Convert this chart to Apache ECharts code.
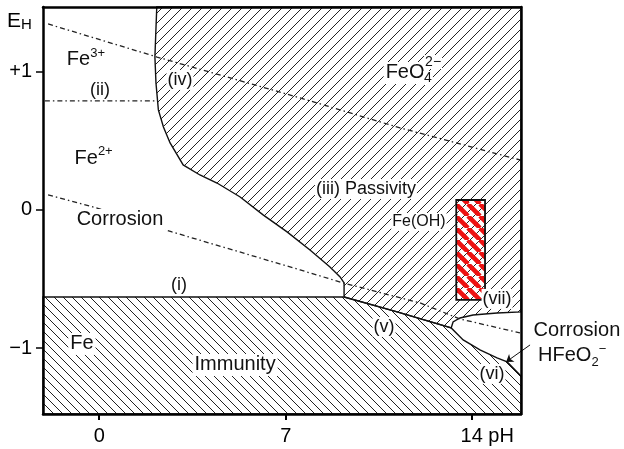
<!DOCTYPE html>
<html><head><meta charset="utf-8">
<script src="https://cdn.jsdelivr.net/npm/echarts@6/dist/echarts.min.js"></script>
<style>html,body{margin:0;padding:0;background:#fff}#c{width:624px;height:449px}</style>
</head><body><div id="c"></div>
<script>
// Axis ranges (pH, E_H in volts)
const X_MIN = -2.11, X_MAX = 15.83, Y_MIN = -1.477, Y_MAX = 1.469;
const xTicks = [0, 7, 14];
const yTicks = [-1, 0, 1];
const yTickLabels = { '1': '+1', '0': '0', '-1': '\u22121' };

// Passivity region (oxide films) boundary [pH, E]
const passivityRegion = [
  [2.16, 1.469], [2.09, 1.107], [2.13, 0.919], [2.22, 0.724], [2.41, 0.601],
  [2.66, 0.485], [3.15, 0.326], [3.78, 0.253], [4.42, 0.195], [5.29, 0.094],
  [6.15, -0.036], [7.05, -0.159], [7.91, -0.290], [8.66, -0.413], [9.04, -0.485],
  [9.19, -0.528], [9.19, -0.630], [11.18, -0.738], [13.21, -0.854],
  [13.28, -0.811], [13.54, -0.782], [14.03, -0.760], [14.93, -0.746], [15.83, -0.738],
  [15.83, 1.469]
];
// Immunity region (metallic Fe) boundary [pH, E]
const immunityRegion = [
  [-2.11, -0.630], [9.19, -0.630], [11.18, -0.738], [13.21, -0.854],
  [13.66, -0.941], [14.29, -1.013], [14.93, -1.071], [15.31, -1.100], [15.83, -1.202],
  [15.83, -1.477], [-2.11, -1.477]
];
// Dashed lines
const oxygenLine = [[-1.92, 1.346], [2.17, 1.107], [7.54, 0.811], [11.29, 0.594], [15.83, 0.36]];
const hydrogenLine = [[-1.92, 0.109], [-0.08, 0.014], [2.73, -0.159], [7.54, -0.434], [9.15, -0.528],
  [12.04, -0.673], [13.54, -0.789], [15.79, -0.890]];
const ferricLine = [[-2.04, 0.789], [2.17, 0.789]];
// Fe(OH) bar
const feOHBox = [[13.40, 0.072], [14.48, 0.072], [14.48, -0.651], [13.40, -0.651]];
// Arrow to HFeO2- region
const arrowLine = [[16.17, -0.977], [15.27, -1.100]];
// Labels [pH, E, text, style]
const labels = [
  [-0.50, 1.086, '{n|Fe}{sup|3+}', 'plain'],
  [0.03, 0.869, '(ii)', 'roman'],
  [3.03, 0.941, '(iv)', 'romanW'],
  [11.48, 0.992, 'FeO', 'bigW'],
  [12.53, 1.071, '2\u2212', 'scriptW'],
  [12.34, 0.955, '4', 'scriptW'],
  [-0.21, 0.376, '{n|Fe}{sup|2+}', 'plain'],
  [0.78, -0.072, 'Corrosion', 'bigW'],
  [10.01, 0.152, '(iii) Passivity', 'romanW'],
  [12.00, -0.087, 'Fe(OH)', 'smallW'],
  [2.99, -0.543, '(i)', 'roman'],
  [10.69, -0.847, '(v)', 'romanW'],
  [14.93, -0.644, '(vii)', 'romanW'],
  [14.74, -1.187, '(vi)', 'romanW'],
  [-0.65, -0.970, 'Fe', 'bigW'],
  [5.10, -1.122, 'Immunity', 'bigW'],
  [17.93, -0.869, 'Corrosion', 'plain'],
  [17.75, -1.057, '{n|HFeO}{sub|2}{sup|\u2212}', 'plain']
];

const FONT = "'Liberation Sans', Arial, sans-serif";
function hatch(size, dir, color, width) {
  const c = document.createElement('canvas');
  c.width = size; c.height = size;
  const g = c.getContext('2d');
  g.strokeStyle = color; g.lineWidth = width; g.beginPath();
  for (const o of [-size, 0, size]) {
    if (dir === '/') { g.moveTo(o, size); g.lineTo(o + size, 0); }
    else { g.moveTo(o, 0); g.lineTo(o + size, size); }
  }
  g.stroke();
  return { image: c, repeat: 'repeat' };
}
const passFill = hatch(10, '/', '#222', 1);
const immFill = hatch(9, '\\', '#222', 1);
const redFill = hatch(12, '\\', '#ee1111', 4.5);

function regionSeries(points, fill, z, lw) {
  return {
    type: 'custom', data: points, z: z, silent: true, clip: false,
    renderItem: function (params, api) {
      if (params.dataIndex !== 0) return null;
      return { type: 'polygon', shape: { points: points.map(p => api.coord(p)) },
        style: { fill: fill, stroke: '#111', lineWidth: lw } };
    }
  };
}
function dashSeries(points) {
  return { type: 'line', data: points, showSymbol: false, symbol: 'none', z: 2, silent: true,
    lineStyle: { color: '#222', width: 1.3, type: [5, 3, 1.5, 3] } };
}
const rich = {
  n: { fontSize: 20, lineHeight: 26, fontFamily: FONT, color: '#111', verticalAlign: 'middle' },
  sup: { fontSize: 13, lineHeight: 14, fontFamily: FONT, color: '#111', verticalAlign: 'top' },
  sub: { fontSize: 13, lineHeight: 14, fontFamily: FONT, color: '#111', verticalAlign: 'bottom' }
};
const labelStyles = {
  plain: { fontSize: 20 },
  bigW: { fontSize: 20, backgroundColor: '#fff', padding: [1, 2] },
  roman: { fontSize: 18 },
  romanW: { fontSize: 18, backgroundColor: '#fff', padding: [1, 1] },
  smallW: { fontSize: 16, backgroundColor: '#fff', padding: [1, 1] },
  scriptW: { fontSize: 14, backgroundColor: '#fff', padding: [0, 1] }
};

const chart = echarts.init(document.getElementById('c'), null, { renderer: 'canvas' });
const axisLine = { show: true, onZero: false, lineStyle: { color: '#000', width: 2.5 } };
chart.setOption({
  animation: false,
  backgroundColor: '#fff',
  grid: { left: 43, right: 103, top: 7, bottom: 35 },
  xAxis: [
    { type: 'value', min: X_MIN, max: X_MAX, position: 'bottom', z: 10,
      axisLine: axisLine, splitLine: { show: false },
      axisTick: { show: true, customValues: xTicks, length: 6, lineStyle: { color: '#000', width: 2 } },
      axisLabel: { customValues: xTicks, margin: 12, fontSize: 20, color: '#000', fontFamily: FONT,
        formatter: v => v === 14 ? '{pad|}14 pH' : String(v),
        rich: { pad: { width: 30 } } } },
    { type: 'value', min: X_MIN, max: X_MAX, position: 'top', z: 10,
      axisLine: axisLine, splitLine: { show: false }, axisTick: { show: false }, axisLabel: { show: false } }
  ],
  yAxis: [
    { type: 'value', min: Y_MIN, max: Y_MAX, position: 'left', z: 10,
      axisLine: axisLine, splitLine: { show: false },
      axisTick: { show: true, customValues: yTicks, length: 7, lineStyle: { color: '#000', width: 1.5 } },
      axisLabel: { customValues: yTicks, margin: 11, fontSize: 20, color: '#000', fontFamily: FONT,
        formatter: v => yTickLabels[String(Math.round(v))] } },
    { type: 'value', min: Y_MIN, max: Y_MAX, position: 'right', z: 10,
      axisLine: axisLine, splitLine: { show: false }, axisTick: { show: false }, axisLabel: { show: false } }
  ],
  graphic: [
    { type: 'text', x: 7, y: 8, z: 20,
      style: { text: '{e|E}{h|H}', rich: {
        e: { fontSize: 21, fontFamily: FONT, fill: '#000', verticalAlign: 'bottom', lineHeight: 24 },
        h: { fontSize: 15, fontFamily: FONT, fill: '#000', verticalAlign: 'bottom', lineHeight: 18 } } } }
  ],
  series: [
    regionSeries(passivityRegion, passFill, 1, 1.4),
    regionSeries(immunityRegion, immFill, 1, 1.4),
    dashSeries(oxygenLine),
    dashSeries(hydrogenLine),
    dashSeries(ferricLine),
    regionSeries(feOHBox, redFill, 3, 1.8),
    { type: 'lines', coordinateSystem: 'cartesian2d', z: 4, silent: true, clip: false,
      symbol: ['none', 'arrow'], symbolSize: 7,
      lineStyle: { color: '#111', width: 1, curveness: 0, opacity: 1 },
      data: [{ coords: arrowLine }] },
    { type: 'scatter', z: 5, silent: true, clip: false, symbolSize: 1,
      itemStyle: { color: 'rgba(0,0,0,0)' },
      data: labels.map(l => ({ value: [l[0], l[1]],
        label: Object.assign({ show: true, position: 'inside', formatter: l[2], color: '#111',
          textBorderWidth: 0, textBorderColor: 'transparent', opacity: 1,
          fontFamily: FONT, rich: rich }, labelStyles[l[3]]) })) }
  ]
});
</script></body></html>
